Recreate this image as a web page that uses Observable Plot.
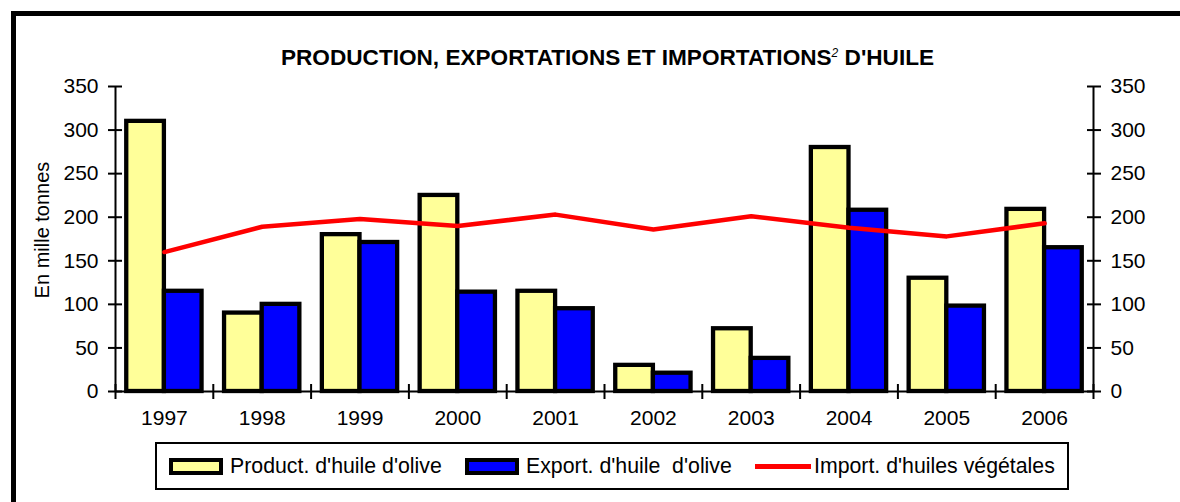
<!DOCTYPE html>
<html>
<head>
<meta charset="utf-8">
<script src="https://cdn.jsdelivr.net/npm/d3@7"></script>
<script src="https://cdn.jsdelivr.net/npm/@observablehq/plot@0.6"></script>
<style>
  html, body { margin: 0; padding: 0; background: #fff; overflow: hidden; }
  #wrap { position: relative; width: 1180px; height: 502px; overflow: hidden; font-family: "Liberation Sans", Arial, sans-serif; }
  #frame { position: absolute; left: 11px; top: 11px; width: 1300px; height: 700px; border: 5px solid #000; box-sizing: border-box; }
  #chart { position: absolute; left: 0; top: 0; }
  #title { position: absolute; top: 45px; left: 0; width: 1215px; text-align: center; font-weight: bold; font-size: 22.6px; color: #000; white-space: nowrap; }
  #title sup { font-size: 12px; font-weight: normal; font-style: italic; vertical-align: 8px; }
  #ylabel { position: absolute; left: 42px; top: 230px; transform: translate(-50%, -50%) rotate(-90deg); font-size: 20px; white-space: nowrap; }
  #legend { position: absolute; left: 155px; top: 442px; width: 914px; height: 48px; border: 2px solid #000; box-sizing: border-box; background: #fff; }
  .item { position: absolute; top: 0; height: 44px; display: flex; align-items: center; font-size: 21.3px; white-space: pre; }
  .sw { box-sizing: border-box; width: 54px; height: 17px; border: 4px solid #000; margin-right: 7px; }
  .ln { width: 56px; height: 5px; background: #ff0000; margin-right: 3px; }
</style>
</head>
<body>
<div id="wrap">
  <div id="frame"></div>
  <div id="chart"></div>
  <div id="title">PRODUCTION, EXPORTATIONS ET IMPORTATIONS<sup>2</sup> D'HUILE</div>
  <div id="ylabel">En mille tonnes</div>
  <div id="legend"></div>
</div>
<script>
const years = [1997, 1998, 1999, 2000, 2001, 2002, 2003, 2004, 2005, 2006];
const production = [310, 90, 180, 225, 115, 30, 72, 280, 130, 209];
const exportations = [115, 100, 171, 114, 95, 21, 38, 208, 98, 165];
const importations = [160, 189, 198, 190, 203, 186, 201, 188, 178, 193];
const yTicks = [0, 50, 100, 150, 200, 250, 300, 350];
const seriesNames = ["Product. d'huile d'olive", "Export. d'huile  d'olive", "Import. d'huiles végétales"];
const seriesColors = ["#ffff99", "#0000ff", "#ff0000"];

const data = years.map((year, i) => ({year, prod: production[i], exp: exportations[i], imp: importations[i]}));
const boundaries = years.map(y => y - 0.5).concat([years[years.length - 1] + 0.5]);
const xDomain = [boundaries[0], boundaries[boundaries.length - 1]];
const barW = 0.385;

const chart = Plot.plot({
  width: 1180,
  height: 502,
  marginLeft: 115,
  marginRight: 87,
  marginTop: 86,
  marginBottom: 111,
  style: {fontFamily: "'Liberation Sans', Arial, sans-serif", fontSize: "21px", color: "#000", background: "transparent"},
  x: {type: "linear", domain: xDomain},
  y: {domain: [0, 350]},
  marks: [
    Plot.rect(data, {x1: d => d.year - barW, x2: d => d.year, y1: 0, y2: "prod", fill: seriesColors[0], stroke: "#000", strokeWidth: 4.3}),
    Plot.rect(data, {x1: d => d.year, x2: d => d.year + barW, y1: 0, y2: "exp", fill: seriesColors[1], stroke: "#000", strokeWidth: 4.3}),
    Plot.ruleY([0], {stroke: "#000", strokeWidth: 2}),
    Plot.ruleX(xDomain, {y1: 0, y2: 350, stroke: "#000", strokeWidth: 2}),
    Plot.axisY(yTicks, {anchor: "left", label: null, tickSize: 14, dx: 7, strokeWidth: 2, tickFormat: () => ""}),
    Plot.axisY(yTicks, {anchor: "left", label: null, tickSize: 0, tickPadding: 17, fontSize: 21, tickFormat: d => String(d)}),
    Plot.axisY(yTicks, {anchor: "right", label: null, tickSize: 14, dx: -7, strokeWidth: 2, tickFormat: () => ""}),
    Plot.axisY(yTicks, {anchor: "right", label: null, tickSize: 0, tickPadding: 17, fontSize: 21, tickFormat: d => String(d)}),
    Plot.axisX(boundaries, {anchor: "bottom", label: null, tickSize: 15, dy: -7, strokeWidth: 2, tickFormat: () => ""}),
    Plot.axisX(years, {anchor: "bottom", label: null, tickSize: 0, tickPadding: 19, fontSize: 21, tickFormat: d => String(d)}),
    Plot.line(data, {x: "year", y: "imp", stroke: seriesColors[2], strokeWidth: 4.5})
  ]
});
document.getElementById("chart").appendChild(chart);

const legend = document.getElementById("legend");
const lefts = [12, 308, 598];
seriesNames.forEach((name, i) => {
  const item = document.createElement("div");
  item.className = "item";
  item.style.left = lefts[i] + "px";
  const sw = document.createElement("div");
  if (i < 2) { sw.className = "sw"; sw.style.background = seriesColors[i]; }
  else { sw.className = "ln"; }
  item.appendChild(sw);
  const t = document.createElement("span");
  t.textContent = name;
  item.appendChild(t);
  legend.appendChild(item);
});
</script>
</body>
</html>
